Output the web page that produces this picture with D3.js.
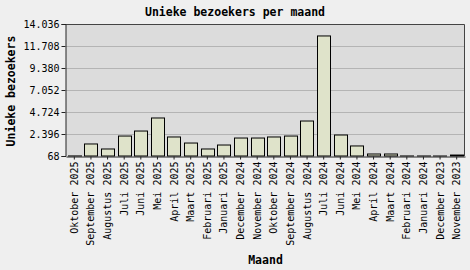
<!DOCTYPE html>
<html>
<head>
<meta charset="utf-8">
<script src="https://cdn.jsdelivr.net/npm/d3@7"></script>
<style>
  html, body { margin: 0; padding: 0; background: #efefef; }
  svg { display: block; }
</style>
</head>
<body>
<div id="chart"></div>
<script>
// Maandlabels, nieuwste eerst (zoals in het origineel)
var months = [
    'Oktober 2025', 'September 2025', 'Augustus 2025', 'Juli 2025', 'Juni 2025',
    'Mei 2025', 'April 2025', 'Maart 2025', 'Februari 2025', 'Januari 2025',
    'December 2024', 'November 2024', 'Oktober 2024', 'September 2024',
    'Augustus 2024', 'Juli 2024', 'Juni 2024', 'Mei 2024', 'April 2024',
    'Maart 2024', 'Februari 2024', 'Januari 2024', 'December 2023', 'November 2023'
];

var visitors = [
    75, 1340, 810, 2180, 2710,
    4090, 2080, 1440, 810, 1230,
    1970, 1970, 2080, 2180,
    3770, 12770, 2290, 1130, 280,
    280, 72, 70, 68, 170
];

var yTicks = [68, 2396, 4724, 7052, 9380, 11708, 14036];

var width = 470, height = 270;
var margin = { top: 24, right: 5, bottom: 114, left: 66 };
var monoFont = '"DejaVu Sans Mono", "Liberation Mono", monospace';

var svg = d3.select('#chart')
    .append('svg')
    .attr('width', width)
    .attr('height', height);

svg.append('rect')
    .attr('width', width)
    .attr('height', height)
    .attr('fill', '#efefef');

var x = d3.scaleBand()
    .domain(months)
    .range([margin.left, width - margin.right])
    .paddingInner(0.2)
    .paddingOuter(0.1);

var y = d3.scaleLinear()
    .domain([68, 14036])
    .range([height - margin.bottom, margin.top]);

// --- plot background ---
svg.append('rect')
    .attr('x', margin.left)
    .attr('y', margin.top)
    .attr('width', width - margin.left - margin.right)
    .attr('height', height - margin.top - margin.bottom)
    .attr('fill', '#dcdcdc');

// --- gridlines ---
svg.append('g')
    .selectAll('line')
    .data(yTicks.slice(1, -1))
    .join('line')
    .attr('x1', margin.left)
    .attr('x2', width - margin.right)
    .attr('y1', function (d) { return Math.round(y(d)) + 0.5; })
    .attr('y2', function (d) { return Math.round(y(d)) + 0.5; })
    .attr('stroke', '#b4b4b4')
    .attr('stroke-width', 1);

// --- bars ---
svg.append('g')
    .selectAll('rect')
    .data(months)
    .join('rect')
    .attr('x', function (d) { return Math.round(x(d)) + 0.5; })
    .attr('width', Math.round(x.bandwidth()))
    .attr('y', function (d, i) { return y(visitors[i]); })
    .attr('height', function (d, i) { return Math.max(0.01, y(68) - y(visitors[i])); })
    .attr('fill', '#dfe3ca')
    .attr('stroke', '#000')
    .attr('stroke-width', 1);

// --- plot frame (top/right) ---
svg.append('path')
    .attr('d', 'M' + margin.left + ',' + (margin.top + 0.5) +
        'H' + (width - margin.right - 0.5) +
        'V' + (height - margin.bottom))
    .attr('fill', 'none')
    .attr('stroke', '#444')
    .attr('stroke-width', 1);

// --- y axis ---
var yAxis = svg.append('g')
    .attr('transform', 'translate(' + (margin.left - 0.5) + ',0)')
    .call(d3.axisLeft(y)
        .tickValues(yTicks)
        .tickSize(4)
        .tickPadding(2)
        .tickFormat(function (d) { return d3.format(',')(d).replace(/,/g, '.'); }));
yAxis.select('.domain').attr('stroke', '#222');
yAxis.selectAll('.tick line').attr('stroke', '#222');
yAxis.selectAll('text')
    .attr('font-family', monoFont)
    .attr('font-size', '10px')
    .attr('fill', '#000');

// --- x axis ---
var xAxis = svg.append('g')
    .attr('transform', 'translate(0,' + (height - margin.bottom + 0.5) + ')')
    .call(d3.axisBottom(x).tickSize(3).tickSizeOuter(0));
xAxis.select('.domain').attr('stroke', '#222');
xAxis.selectAll('.tick line').attr('stroke', '#222');
xAxis.selectAll('text')
    .attr('font-family', monoFont)
    .attr('font-size', '10px')
    .attr('fill', '#000')
    .attr('transform', 'rotate(-90)')
    .attr('text-anchor', 'end')
    .attr('x', -5)
    .attr('y', 0)
    .attr('dy', '0.35em');

// --- titles ---
svg.append('text')
    .attr('x', 235)
    .attr('y', 16)
    .attr('text-anchor', 'middle')
    .attr('font-family', monoFont)
    .attr('font-weight', 'bold')
    .attr('font-size', '11.5px')
    .text('Unieke bezoekers per maand');

svg.append('text')
    .attr('x', (margin.left + width - margin.right) / 2)
    .attr('y', 264)
    .attr('text-anchor', 'middle')
    .attr('font-family', monoFont)
    .attr('font-weight', 'bold')
    .attr('font-size', '11.5px')
    .text('Maand');

svg.append('text')
    .attr('transform', 'translate(15,' + 91 + ') rotate(-90)')
    .attr('text-anchor', 'middle')
    .attr('font-family', monoFont)
    .attr('font-weight', 'bold')
    .attr('font-size', '11.5px')
    .text('Unieke bezoekers');
</script>
</body>
</html>
